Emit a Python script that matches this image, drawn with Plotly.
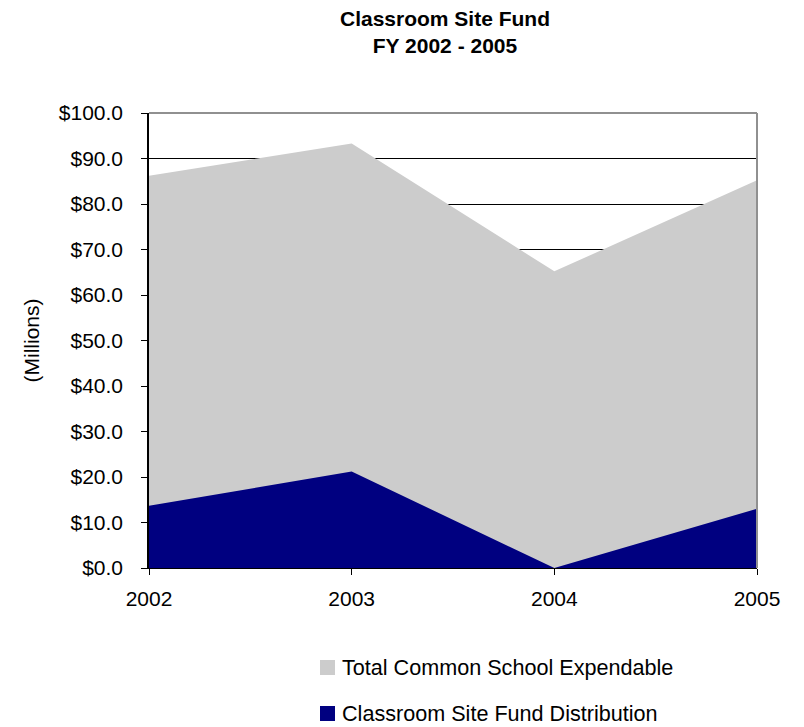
import plotly.graph_objects as go

years = [2002, 2003, 2004, 2005]
year_labels = ["2002", "2003", "2004", "2005"]
total_expendable = [86.2, 93.3, 65.2, 85.2]
classroom_distribution = [13.7, 21.2, 0.0, 13.0]
y_ticks = [0, 10, 20, 30, 40, 50, 60, 70, 80, 90, 100]
series_names = ["Total Common School Expendable", "Classroom Site Fund Distribution"]

GRAY = "#CCCCCC"
NAVY = "#000080"
FONT = "Liberation Sans, Arial, sans-serif"

OFF = 8  # page body margin of the rendered html
W, H = 804 - OFF, 727 - OFF
PLOT_L, PLOT_T, PLOT_R, PLOT_B = 149, 113, 757, 568  # target pixel box in the photo
L = PLOT_L - OFF
T = PLOT_T - OFF
PW = PLOT_R - PLOT_L
PH = PLOT_B - PLOT_T
R = W - L - PW
B = H - T - PH


def px_x(px):
    return (px - PLOT_L) / PW


def px_y(py):
    return (PLOT_B - py) / PH


fig = go.Figure()
fig.add_trace(go.Scatter(x=years, y=total_expendable, mode="none", fill="tozeroy",
                         fillcolor=GRAY, name=series_names[0], showlegend=False, hoverinfo="skip"))
fig.add_trace(go.Scatter(x=years, y=classroom_distribution, mode="none", fill="tozeroy",
                         fillcolor=NAVY, name=series_names[1], showlegend=False, hoverinfo="skip"))

shapes = [
    dict(type="line", xref="paper", yref="paper", x0=0, x1=1, y0=1, y1=1,
         line=dict(color="#909090", width=2), layer="above"),
    dict(type="line", xref="paper", yref="paper", x0=1, x1=1, y0=0, y1=1,
         line=dict(color="#909090", width=2), layer="above"),
]
annotations = []
for name, color, cy in [(series_names[0], GRAY, 667.5), (series_names[1], NAVY, 713.5)]:
    shapes.append(dict(type="rect", xref="paper", yref="paper",
                       x0=px_x(320), x1=px_x(335), y0=px_y(cy + 7.5), y1=px_y(cy - 7.5),
                       fillcolor=color, line=dict(width=0), layer="above"))
    annotations.append(dict(text=name, xref="paper", yref="paper", x=px_x(340), y=px_y(cy),
                            xanchor="left", yanchor="middle", showarrow=False,
                            font=dict(family=FONT, size=21.6, color="black")))

fig.update_layout(
    width=W, height=H,
    margin=dict(l=L, r=R, t=T, b=B, autoexpand=False),
    paper_bgcolor="white", plot_bgcolor="white",
    font=dict(family=FONT, size=21, color="black"),
    showlegend=False,
    title=dict(text="<b>Classroom Site Fund<br>FY 2002 - 2005</b>", x=px_x(445), xanchor="center",
               xref="paper", y=1 - 18 / H, yanchor="middle", yref="container",
               font=dict(family=FONT, size=21, color="black")),
    xaxis=dict(range=[2002, 2005], tickvals=years, ticktext=year_labels, showgrid=False,
               zeroline=False, showline=True, linecolor="black", linewidth=1,
               ticks="outside", ticklen=6, tickcolor="black", ticklabelstandoff=6,
               automargin=False, tickangle=0),
    yaxis=dict(range=[0, 100], tickvals=y_ticks, tickformat="$.1f",
               showgrid=True, gridcolor="black", gridwidth=1, zeroline=False,
               showline=True, linecolor="black", linewidth=1.5,
               ticks="outside", ticklen=6, tickcolor="black", ticklabelstandoff=14,
               automargin=False,
               title=dict(text="(Millions)", standoff=13, font=dict(size=21))),
    shapes=shapes,
    annotations=annotations,
)

fig.write_html("out.html")
